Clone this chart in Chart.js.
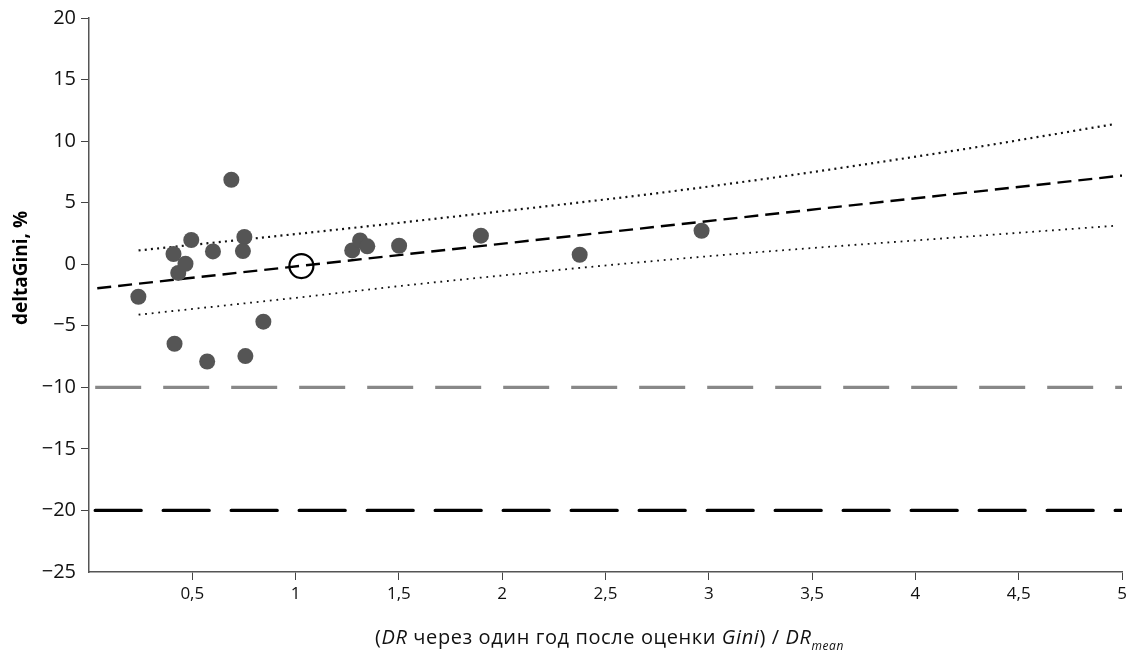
<!DOCTYPE html>
<html>
<head>
<meta charset="utf-8">
<script src="https://cdn.jsdelivr.net/npm/chart.js@4"></script>
<style>
  html, body { margin: 0; padding: 0; background: #fff; }
  #wrap { width: 1128px; height: 650px; position: relative; }
</style>
</head>
<body>
<div id="wrap"><canvas id="chart"></canvas></div>
<script>
// observed points: DR ratio vs deltaGini, %
var pointX = [0.239, 0.409, 0.432, 0.467, 0.495, 0.600, 0.689, 0.752, 0.745, 0.414,
              0.572, 0.757, 0.844, 1.274, 1.312, 1.347, 1.501, 1.897, 2.375, 2.965];
var pointY = [-2.64, 0.83, -0.71, 0.04, 1.97, 1.04, 6.86, 2.21, 1.07, -6.46,
              -7.90, -7.46, -4.67, 1.12, 1.93, 1.45, 1.50, 2.32, 0.77, 2.72];
// mean point (open circle)
var meanX = [1.028];
var meanY = [-0.15];
// regression line
var fitX = [0.04, 5.0];
var fitY = [-1.95, 7.2];
// confidence band (dotted)
var bandX = [0.24, 1.0, 1.6, 2.95, 4.16, 4.97];
var bandUpper = [1.12, 2.45, 3.55, 6.2, 9.15, 11.4];
var bandLower = [-4.1, -2.73, -1.6, 0.58, 2.13, 3.13];
// threshold lines
var limitX = [0.03, 5.0];
var limit10 = [-10, -10];
var limit20 = [-20, -20];

var FONT = "'Open Sans', 'Noto Sans', sans-serif";

function xy(xs, ys) {
  return xs.map(function(x, i) { return { x: x, y: ys[i] }; });
}

function lineSet(xs, ys, color, width, dash, order) {
  return {
    data: xy(xs, ys), showLine: true, pointRadius: 0, borderColor: color,
    borderWidth: width, borderDash: dash, fill: false, order: order
  };
}

var titlePlugin = {
  id: 'titles',
  afterDraw: function(chart) {
    var ctx = chart.ctx;
    ctx.save();
    ctx.fillStyle = '#000';

    // y title, rotated
    ctx.translate(27, 268);
    ctx.rotate(-Math.PI / 2);
    ctx.font = 'bold 19px ' + FONT;
    ctx.textAlign = 'center';
    ctx.textBaseline = 'alphabetic';
    ctx.fillText('deltaGini, %', 0, 0);
    ctx.setTransform(1, 0, 0, 1, 0, 0);

    // x title with italics and subscript
    ctx.fillStyle = '#111';
    ctx.letterSpacing = '0.6px';
    var parts = [
      { t: '(', it: false }, { t: 'DR', it: true },
      { t: ' через один год после оценки ', it: false }, { t: 'Gini', it: true },
      { t: ') / ', it: false }, { t: 'DR', it: true }
    ];
    var sub = 'mean';
    var total = 0;
    parts.forEach(function(p) {
      ctx.font = (p.it ? 'italic ' : '') + '20px ' + FONT;
      p.w = ctx.measureText(p.t).width;
      total += p.w;
    });
    ctx.font = 'italic 12px ' + FONT;
    var subW = ctx.measureText(sub).width;
    total += subW;
    var area = chart.chartArea;
    var x = (area.left + area.right) / 2 - total / 2 + 4;
    ctx.textAlign = 'left';
    parts.forEach(function(p) {
      ctx.font = (p.it ? 'italic ' : '') + '20px ' + FONT;
      ctx.fillText(p.t, x, 644);
      x += p.w;
    });
    ctx.font = 'italic 12px ' + FONT;
    ctx.fillText(sub, x, 650);
    ctx.restore();
  }
};

new Chart(document.getElementById('chart'), {
  type: 'scatter',
  data: {
    datasets: [
      { data: xy(pointX, pointY), pointRadius: 8, pointHoverRadius: 8,
        pointBackgroundColor: '#555555', pointBorderWidth: 0, order: 0 },
      { data: xy(meanX, meanY), pointRadius: 12, pointHoverRadius: 12,
        pointBackgroundColor: 'rgba(0,0,0,0)', pointBorderColor: '#000',
        pointBorderWidth: 2.2, order: 0 },
      lineSet(fitX, fitY, '#000', 2.4, [14, 7], 1),
      Object.assign(lineSet(bandX, bandUpper, '#111', 2.2, [2, 4.2], 2), { cubicInterpolationMode: 'monotone' }),
      Object.assign(lineSet(bandX, bandLower, '#111', 1.8, [1.8, 4.8], 2), { cubicInterpolationMode: 'monotone' }),
      Object.assign(lineSet(limitX, limit10, '#888888', 3.3, [46, 22], 3), { borderCapStyle: 'butt' }),
      Object.assign(lineSet(limitX, limit20, '#000', 3.3, [46, 22], 3), { borderCapStyle: 'round' })
    ]
  },
  options: {
    responsive: true, maintainAspectRatio: false, animation: false,
    layout: { autoPadding: false, padding: { left: 0, right: 6, top: 18, bottom: 0 } },
    plugins: { legend: { display: false }, tooltip: { enabled: false } },
    scales: {
      x: {
        type: 'linear', min: 0, max: 5,
        afterFit: function(s) { s.height = 78; s.paddingLeft = 0; s.paddingRight = 0; },
        border: { display: true, color: '#555', width: 1.5 },
        grid: {
          drawOnChartArea: false, drawTicks: true, tickLength: 8,
          color: function(c) { return c.tick && c.tick.value === 0 ? 'rgba(0,0,0,0)' : '#444'; }
        },
        ticks: {
          stepSize: 0.5, color: '#111', padding: 4, maxRotation: 0,
          font: { family: FONT, size: 17 },
          callback: function(v) { return v === 0 ? '' : String(v).replace('.', ','); }
        }
      },
      y: {
        type: 'linear', min: -25, max: 20,
        afterFit: function(s) { s.width = 89; s.paddingTop = 0; s.paddingBottom = 0; },
        border: { display: true, color: '#555', width: 1.5 },
        grid: {
          drawOnChartArea: false, drawTicks: true, tickLength: 8,
          color: function(c) { return c.tick && c.tick.value === -25 ? 'rgba(0,0,0,0)' : '#444'; }
        },
        ticks: {
          stepSize: 5, color: '#111', padding: 5,
          font: { family: FONT, size: 20 },
          callback: function(v) { return v < 0 ? '\u2212' + Math.abs(v) : String(v); }
        }
      }
    }
  },
  plugins: [titlePlugin]
});
</script>
</body>
</html>
